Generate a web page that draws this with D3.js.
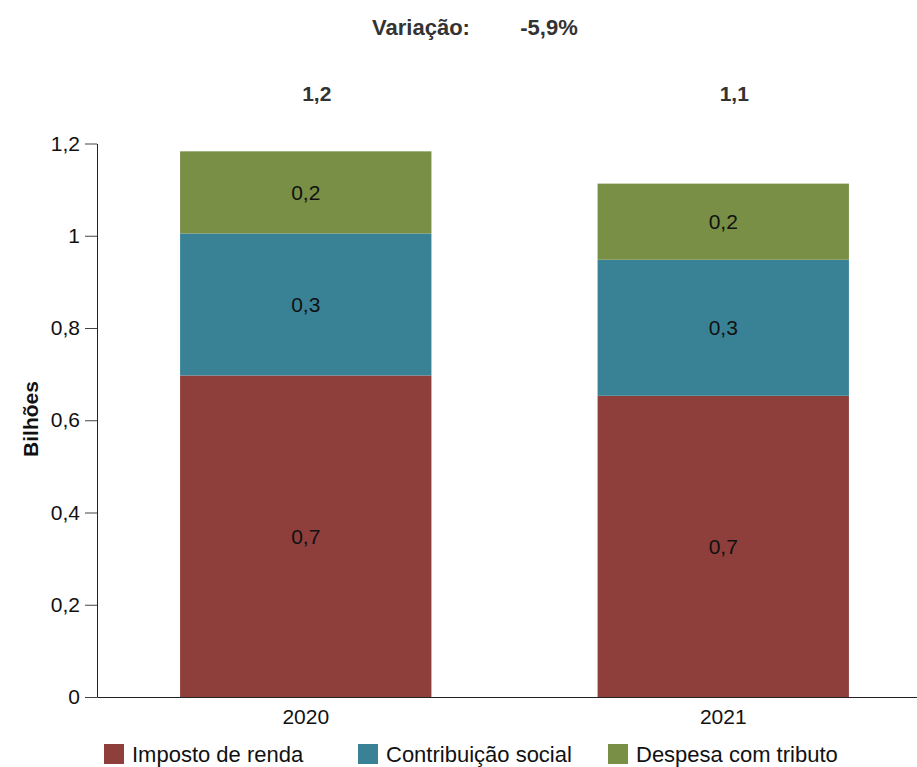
<!DOCTYPE html>
<html>
<head>
<meta charset="utf-8">
<script src="https://cdn.jsdelivr.net/npm/d3@7"></script>
<style>
  body { margin: 0; background: #fff; }
  svg { display: block; font-family: "Liberation Sans", Arial, sans-serif; }
</style>
</head>
<body>
<svg width="917" height="767"></svg>
<script>
const anos = ['2020', '2021']
const series = ['Imposto de renda', 'Contribuição social', 'Despesa com tributo']
const impostoRenda = [0.697, 0.653]
const contribuicaoSocial = [0.308, 0.295]
const despesaTributo = [0.178, 0.165]
const cores = ['#8e3e3b', '#398296', '#788f45']
const yTicks = [0, 0.2, 0.4, 0.6, 0.8, 1, 1.2]

const svg = d3.select('svg')

const fmt = v => d3.format('.1f')(v).replace('.', ',')
const fmtTick = v => String(+v.toFixed(1)).replace('.', ',')

const rows = anos.map((ano, i) => ({
  ano,
  'Imposto de renda': impostoRenda[i],
  'Contribuição social': contribuicaoSocial[i],
  'Despesa com tributo': despesaTributo[i]
}))

const stacked = d3.stack().keys(series)(rows)

const x = d3.scaleBand()
  .domain(anos)
  .range([97, 932])
  .paddingInner(0.398)
  .paddingOuter(0.199)

const y = d3.scaleLinear()
  .domain([0, 1.2])
  .range([697, 143.5])

const color = d3.scaleOrdinal().domain(series).range(cores)

// barras
const layers = svg.append('g')
  .selectAll('g')
  .data(stacked)
  .join('g')
  .attr('fill', d => color(d.key))

layers.selectAll('rect')
  .data(d => d)
  .join('rect')
  .attr('x', d => x(d.data.ano))
  .attr('width', x.bandwidth())
  .attr('y', d => y(d[1]))
  .attr('height', d => y(d[0]) - y(d[1]))

// rótulos dentro das barras
layers.selectAll('text')
  .data(d => d)
  .join('text')
  .attr('x', d => x(d.data.ano) + x.bandwidth() / 2)
  .attr('y', d => (y(d[0]) + y(d[1])) / 2)
  .attr('dy', '0.35em')
  .attr('text-anchor', 'middle')
  .attr('font-size', 21)
  .attr('fill', '#111')
  .text(d => fmt(d[1] - d[0]))

// eixo y
const yAxis = svg.append('g')
  .attr('transform', 'translate(97,0)')
  .call(d3.axisLeft(y).tickValues(yTicks).tickFormat(fmtTick).tickSize(12).tickSizeOuter(0).tickPadding(5))

yAxis.select('.domain').attr('stroke', '#222')
yAxis.selectAll('.tick line').attr('stroke', '#444')
yAxis.selectAll('.tick text').attr('font-size', 21).attr('fill', '#111')
yAxis.attr('font-family', null)

// eixo x
const xAxis = svg.append('g')
  .attr('transform', 'translate(0,697)')
  .call(d3.axisBottom(x).tickSize(0).tickPadding(12))

xAxis.select('.domain').attr('stroke', '#222')
xAxis.selectAll('.tick text').attr('font-size', 21).attr('fill', '#111')
xAxis.attr('font-family', null)

svg.append('text')
  .attr('transform', 'translate(38,419) rotate(-90)')
  .attr('text-anchor', 'middle')
  .attr('font-size', 21)
  .attr('font-weight', 'bold')
  .attr('fill', '#111')
  .text('Bilhões')

// totais
const totais = anos.map((ano, i) => impostoRenda[i] + contribuicaoSocial[i] + despesaTributo[i])

svg.append('g')
  .selectAll('text')
  .data(anos)
  .join('text')
  .attr('x', d => x(d) + x.bandwidth() / 2 + 11)
  .attr('y', 101)
  .attr('text-anchor', 'middle')
  .attr('font-size', 21)
  .attr('font-weight', 'bold')
  .attr('fill', '#333')
  .text((d, i) => fmt(totais[i]))

// variação
const variacao = (totais[1] / totais[0] - 1) * 100

svg.append('text')
  .attr('x', 421)
  .attr('y', 35)
  .attr('text-anchor', 'middle')
  .attr('font-size', 22)
  .attr('font-weight', 'bold')
  .attr('fill', '#333')
  .text('Variação:')

svg.append('text')
  .attr('x', 549)
  .attr('y', 35)
  .attr('text-anchor', 'middle')
  .attr('font-size', 22)
  .attr('font-weight', 'bold')
  .attr('fill', '#333')
  .text(variacao.toFixed(1).replace('.', ',') + '%')

// legenda
const legendX = [104, 358, 608]

const legend = svg.append('g')
  .selectAll('g')
  .data(series)
  .join('g')
  .attr('transform', (d, i) => `translate(${legendX[i]},744)`)

legend.append('rect')
  .attr('width', 20)
  .attr('height', 20)
  .attr('fill', d => color(d))

legend.append('text')
  .attr('x', 28)
  .attr('y', 10)
  .attr('dy', '0.35em')
  .attr('font-size', 22)
  .attr('fill', '#111')
  .text(d => d)
</script>
</body>
</html>
